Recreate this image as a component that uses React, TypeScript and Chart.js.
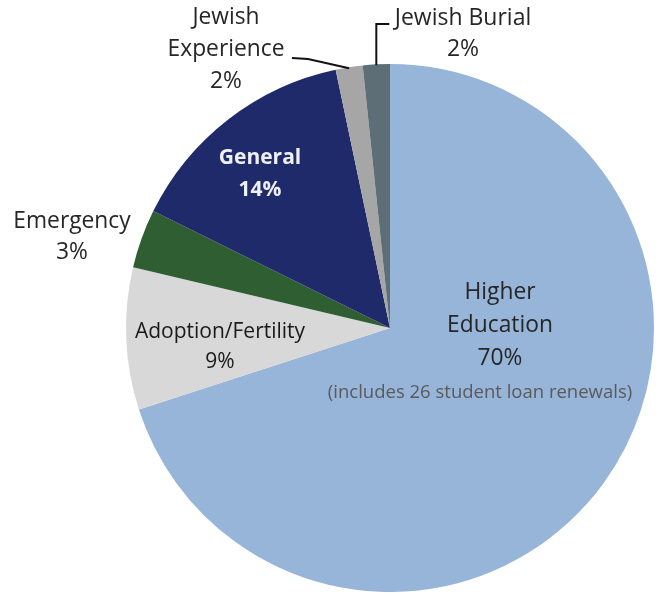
import React, { useEffect, useRef } from "react";
import { Chart, registerables } from "chart.js";

Chart.register(...registerables);

const categories = ["Higher Education", "Adoption/Fertility", "Emergency", "General", "Jewish Experience", "Jewish Burial"];
const values = [70.0, 8.7, 3.6, 14.4, 1.65, 1.65];
const percentLabels = ["70%", "9%", "3%", "14%", "2%", "2%"];
const noteText = "(includes 26 student loan renewals)";
const colors = ["#97b5d8", "#d8d8d8", "#2e5e31", "#1f2a6a", "#a6a6a6", "#5e6e77"];

const FONT = '"Open Sans", "Noto Sans", sans-serif';

// label layout relative to the pie centre
const labelLayout = [
  { lines: ["Higher", "Education"], dx: 110, dy: -35, lh: 33, size: 22.8, color: "#262626", weight: "normal" },
  { lines: ["Adoption/Fertility"], dx: -170, dy: 4, lh: 30, size: 21, color: "#1a1a1a", weight: "normal" },
  { lines: ["Emergency"], dx: -318, dy: -106, lh: 31, size: 22.8, color: "#262626", weight: "normal" },
  { lines: ["General"], dx: -130, dy: -170, lh: 32, size: 21, color: "#eef0f6", weight: "bold" },
  { lines: ["Jewish", "Experience"], dx: -164, dy: -310, lh: 32, size: 22.8, color: "#262626", weight: "normal" },
  { lines: ["Jewish Burial"], dx: 73, dy: -310, lh: 31, size: 23, color: "#262626", weight: "normal" },
];

const labelPlugin = {
  id: "pieLabels",
  afterDatasetsDraw(chart: any) {
    const ctx = chart.ctx as CanvasRenderingContext2D;
    const meta = chart.getDatasetMeta(0);
    const first = meta.data[0];
    const cx = first.x;
    const cy = first.y;
    ctx.save();
    ctx.textAlign = "center";
    ctx.textBaseline = "middle";
    labelLayout.forEach((lay, i) => {
      const lines = [...lay.lines, percentLabels[i]];
      ctx.fillStyle = lay.color;
      ctx.font = `${lay.weight} ${lay.size}px ${FONT}`;
      lines.forEach((t, k) => {
        ctx.fillText(t, cx + lay.dx, cy + lay.dy + k * lay.lh);
      });
    });
    // note under Higher Education
    ctx.fillStyle = "#5a5a5a";
    ctx.font = `normal 18.5px ${FONT}`;
    ctx.fillText(noteText, cx + 90, cy + 65);

    // leader lines
    const arcPoint = (idx: number) => {
      const a = meta.data[idx];
      const mid = (a.startAngle + a.endAngle) / 2;
      return { x: a.x + Math.cos(mid) * a.outerRadius, y: a.y + Math.sin(mid) * a.outerRadius };
    };
    ctx.strokeStyle = "#111";
    ctx.lineWidth = 2;
    // Jewish Experience
    const pe = arcPoint(4);
    ctx.beginPath();
    ctx.moveTo(cx - 98, cy - 270);
    ctx.lineTo(cx - 82, cy - 269);
    ctx.lineTo(pe.x, pe.y + 1);
    ctx.stroke();
    // Jewish Burial
    const pb = arcPoint(5);
    ctx.beginPath();
    ctx.moveTo(pb.x + 13, cy - 304);
    ctx.lineTo(pb.x, cy - 304);
    ctx.lineTo(pb.x, pb.y + 1);
    ctx.stroke();
    ctx.restore();
  },
};

export default function App() {
  const ref = useRef<HTMLCanvasElement | null>(null);
  useEffect(() => {
    document.body.style.margin = "0";
    const canvas = ref.current!;
    const chart = new Chart(canvas, {
      type: "pie",
      data: {
        labels: categories,
        datasets: [
          {
            data: values,
            backgroundColor: colors,
            borderWidth: 0,
          },
        ],
      },
      options: {
        animation: false,
        responsive: false,
        maintainAspectRatio: false,
        layout: { padding: { top: 64, bottom: 6, left: 126, right: 14 } },
        plugins: {
          legend: { display: false },
          tooltip: { enabled: false },
          title: { display: false },
        },
      },
      plugins: [labelPlugin],
    });
    return () => chart.destroy();
  }, []);
  return (
    <div style={{ width: 668, height: 598, background: "#fff" }}>
      <canvas ref={ref} width={668} height={598} style={{ display: "block" }} />
    </div>
  );
}
